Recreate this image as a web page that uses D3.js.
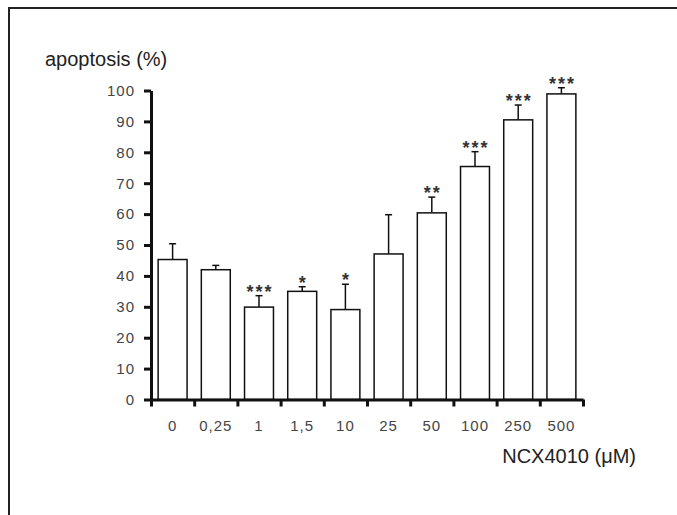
<!DOCTYPE html>
<html lang="en">
<head>
    <meta charset="UTF-8">
    <title>apoptosis vs NCX4010</title>
    <script src="https://cdnjs.cloudflare.com/ajax/libs/d3/7.8.5/d3.min.js"></script>
    <style>
        body {
            margin: 0;
            background-color: #ffffff;
            font-family: 'Liberation Sans', Arial, Helvetica, sans-serif;
        }
        .tick text {
            font-family: 'Liberation Sans', Arial, sans-serif;
            font-size: 15px;
            letter-spacing: 1px;
            fill: #444;
        }
        .axis path, .axis line {
            stroke: #111;
            stroke-width: 3px;
        }
        .bar {
            fill: #fff;
            stroke: #111;
            stroke-width: 1.5px;
        }
        .err {
            stroke: #111;
            stroke-width: 1.5px;
        }
        .stars {
            font-family: 'Liberation Sans', Arial, sans-serif;
            font-size: 18px;
            font-weight: bold;
            fill: #333;
            letter-spacing: 2px;
        }
        .title {
            font-size: 20px;
            fill: #222;
        }
    </style>
</head>
<body>
    <div id="chart"></div>

    <script>
        // data
        const doses = ["0", "0,25", "1", "1,5", "10", "25", "50", "100", "250", "500"];
        const apoptosis = [45.3, 42.0, 29.9, 35.0, 29.1, 47.1, 60.4, 75.4, 90.5, 98.9];
        const errUp = [50.4, 43.4, 33.6, 36.5, 37.3, 59.8, 65.5, 80.2, 95.3, 100.9];
        const signif = ["", "", "***", "*", "*", "", "**", "***", "***", "***"];
        const yTicks = [0, 10, 20, 30, 40, 50, 60, 70, 80, 90, 100];

        const W = 677, H = 515;
        const margin = {top: 90.5, right: 94, bottom: 115.5, left: 151};

        const svg = d3.select("#chart")
            .append("svg")
            .attr("width", W)
            .attr("height", H);

        // frame round the figure
        svg.append("path")
            .attr("d", `M9,${H + 5}V8H${W + 5}`)
            .attr("fill", "none")
            .attr("stroke", "#222")
            .attr("stroke-width", 2);

        const x = d3.scaleBand()
            .domain(doses)
            .range([margin.left, W - margin.right])
            .paddingInner(0.33)
            .paddingOuter(0.165);

        // boundary ticks between the bars
        const xb = d3.scaleLinear()
            .domain([0, doses.length])
            .range([margin.left, W - margin.right]);

        const y = d3.scaleLinear()
            .domain([0, 100])
            .range([H - margin.bottom, margin.top]);

        const g = svg.append("g");

        g.selectAll(".err")
            .data(doses)
            .join("line")
            .attr("class", "err")
            .attr("x1", d => x(d) + x.bandwidth() / 2)
            .attr("x2", d => x(d) + x.bandwidth() / 2)
            .attr("y1", (d, i) => y(apoptosis[i]))
            .attr("y2", (d, i) => y(errUp[i]));

        g.selectAll(".cap")
            .data(doses)
            .join("line")
            .attr("class", "err cap")
            .attr("x1", d => x(d) + x.bandwidth() / 2 - 3.5)
            .attr("x2", d => x(d) + x.bandwidth() / 2 + 3.5)
            .attr("y1", (d, i) => y(errUp[i]))
            .attr("y2", (d, i) => y(errUp[i]));

        g.selectAll(".bar")
            .data(doses)
            .join("rect")
            .attr("class", "bar")
            .attr("x", d => x(d))
            .attr("width", x.bandwidth())
            .attr("y", (d, i) => y(apoptosis[i]))
            .attr("height", (d, i) => y(0) - y(apoptosis[i]));

        g.selectAll(".stars")
            .data(doses)
            .join("text")
            .attr("class", "stars")
            .attr("text-anchor", "middle")
            .attr("x", d => x(d) + x.bandwidth() / 2 + 1)
            .attr("y", (d, i) => y(errUp[i]) + 2)
            .text((d, i) => signif[i]);

        // axes
        svg.append("g")
            .attr("class", "axis")
            .attr("transform", `translate(0,${y(0)})`)
            .call(d3.axisBottom(xb).ticks(doses.length).tickSize(7).tickSizeOuter(0).tickFormat(""));

        const xLab = svg.append("g")
            .attr("transform", `translate(0,${y(0)})`)
            .call(d3.axisBottom(x).tickSize(0).tickPadding(21));
        xLab.select(".domain").remove();

        svg.append("g")
            .attr("class", "axis")
            .attr("transform", `translate(${margin.left},0)`)
            .call(d3.axisLeft(y).tickValues(yTicks).tickSize(7).tickSizeOuter(0).tickPadding(9));

        svg.append("text")
            .attr("class", "title")
            .attr("x", 45)
            .attr("y", 66)
            .text("apoptosis (%)");

        svg.append("text")
            .attr("class", "title")
            .attr("x", 636)
            .attr("y", 463)
            .attr("text-anchor", "end")
            .text("NCX4010 (\u03BCM)");
    </script>
</body>
</html>
